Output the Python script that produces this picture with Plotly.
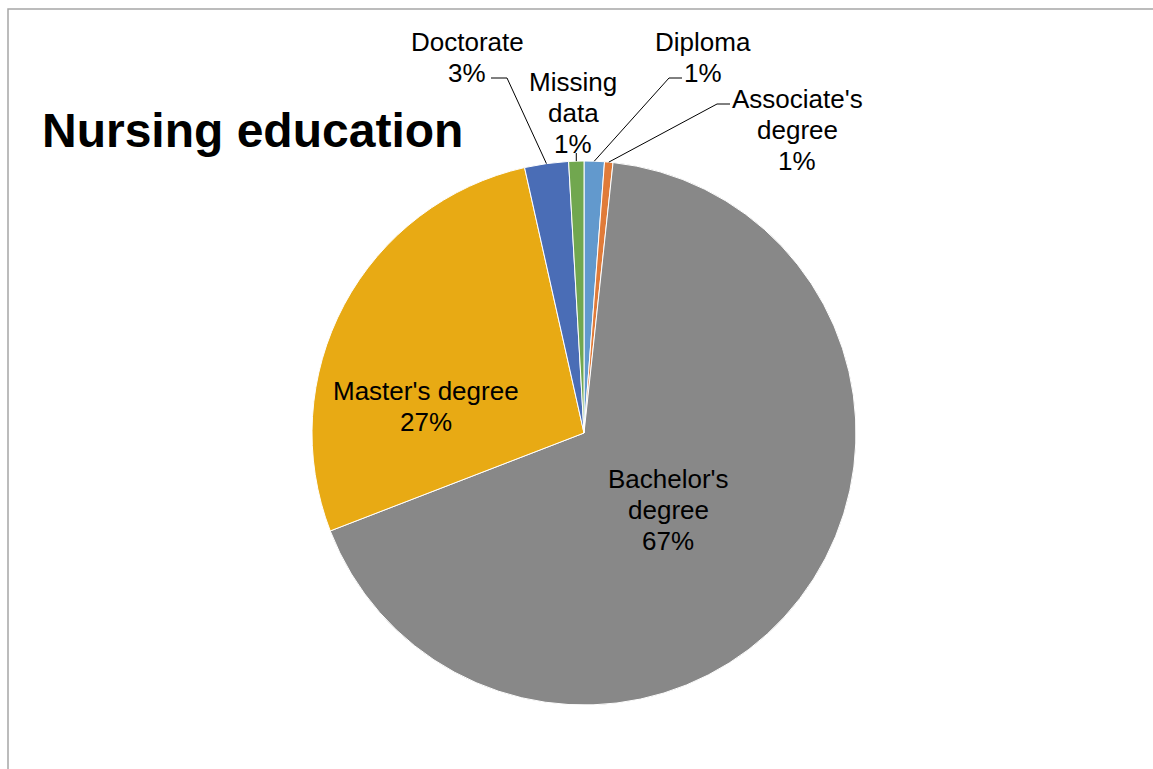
import math
import plotly.graph_objects as go

# ---- data (clockwise from 12 o'clock) ----
labels = ["Diploma", "Associate's degree", "Bachelor's degree", "Master's degree", "Doctorate", "Missing data"]
values = [1.2, 0.5, 67.3, 27.3, 2.6, 0.9]
colors = ["#6299cd", "#e07b39", "#888888", "#e8aa14", "#4a6db6", "#71a74f"]
label_lines = [["Diploma", "1%"], ["Associate's", "degree", "1%"], ["Bachelor's", "degree", "67%"],
               ["Master's degree", "27%"], ["Doctorate", "3%"], ["Missing", "data", "1%"]]

W, H = 1153, 769
CX, CY, R = 584, 433, 272  # pie centre / radius in pixels
LINE = 31


def px(x):
    return x / W


def py(y):
    return 1 - y / H


fig = go.Figure(go.Pie(
    labels=labels, values=values, sort=False, direction="clockwise", rotation=0,
    marker=dict(colors=colors, line=dict(color="white", width=1)),
    textinfo="none", hoverinfo="label+percent", showlegend=False,
    domain=dict(x=[px(CX - R), px(CX + R)], y=[py(CY + R), py(CY - R)]),
))

# slice mid-angles from data
total = sum(values)
mids = []
acc = 0
for v in values:
    mids.append((acc + v / 2) / total * 360)
    acc += v


def edge(i, rr=1.0):
    a = math.radians(mids[i])
    return CX + R * rr * math.sin(a), CY - R * rr * math.cos(a)


font = dict(family="Liberation Sans, Arial", size=26, color="black")
annotations = []
shapes = []

# label placement: (centre x, y of first line)
label_pos = {
    0: (703, 40),
    1: (797, 97),
    2: (668, 477),
    3: (426, 389),
    4: (467, 40),
    5: (573, 80),
}
elbows = {
    0: [(669, 78), (682, 78)],
    1: [(717, 104), (730, 104)],
    4: [(507, 78), (491, 78)],
    5: [(None, 153)],
}

for i, lines in enumerate(label_lines):
    x, y0 = label_pos[i]
    for k, t in enumerate(lines):
        annotations.append(dict(x=px(x), y=py(y0 + k * LINE + 2), xref="paper", yref="paper", text=t,
                                showarrow=False, font=font, align="center",
                                xanchor="center", yanchor="middle"))

for i, pts in elbows.items():
    sx, sy = edge(i, 1.0)
    path = f"M {px(sx)} {py(sy)}"
    for (ex, ey) in pts:
        ex = sx if ex is None else ex
        path += f" L {px(ex)} {py(ey)}"
    shapes.append(dict(type="path", path=path, xref="paper", yref="paper",
                       line=dict(color="black", width=1)))

# chart-area border
shapes.append(dict(type="rect", xref="paper", yref="paper", x0=px(8), y0=-0.05, x1=1.05, y1=py(9),
                   line=dict(color="#a6a6a6", width=1.5), fillcolor="rgba(0,0,0,0)"))

annotations.append(dict(x=px(40), y=py(130), xref="paper", yref="paper",
                        text="<b>Nursing education</b>", showarrow=False,
                        font=dict(family="Liberation Sans, Arial", size=48, color="black"),
                        xanchor="left", yanchor="middle"))

fig.update_layout(width=W, height=H, margin=dict(l=0, r=0, t=0, b=0),
                  paper_bgcolor="white", plot_bgcolor="white",
                  annotations=annotations, shapes=shapes)

fig.write_html("out.html", config={"displayModeBar": False},
               post_script="document.body.style.margin='0';document.body.style.overflow='hidden';")
